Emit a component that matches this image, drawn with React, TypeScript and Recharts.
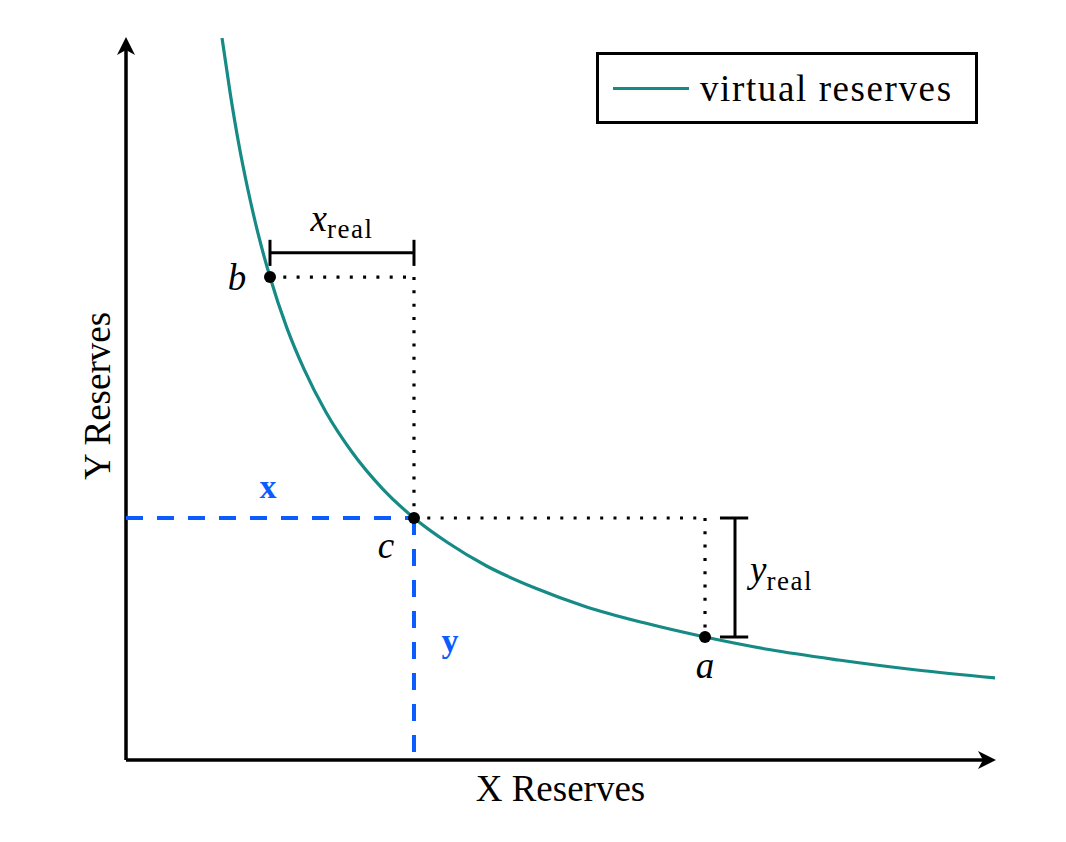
import { LineChart, Line, XAxis, YAxis, ReferenceLine, ReferenceDot, Legend } from 'recharts'

// curve (x reserves / y reserves, arbitrary units)
const curveX = [1.105, 1.2, 1.3, 1.4, 1.52, 1.657, 1.85, 2.05, 2.3, 2.6, 2.95, 3.314, 3.7, 4.15, 4.7, 5.3, 5.95, 6.663, 7.4, 8.2, 9.1, 10]
const curveY = [8.3, 7.66, 7.07, 6.57, 6.05, 5.552, 4.97, 4.49, 4.0, 3.54, 3.12, 2.782, 2.5, 2.23, 1.98, 1.76, 1.58, 1.414, 1.27, 1.15, 1.035, 0.943]

// marked points b, c, a
const pointNames = ['b', 'c', 'a']
const pointX = [1.657, 3.314, 6.663]
const pointY = [5.552, 2.782, 1.414]

const xMax = 10
const yMax = 8.3

const TEAL = '#168a85'
const BLUE = '#0b5cff'
const FONT = '"Liberation Serif", "DejaVu Serif", serif'

const curveData = curveX.map((x, i) => ({ x, y: curveY[i] }))

const [bx, cx0, ax] = pointX
const [by, cy0, ay] = pointY

// small helpers for the annotations
const textShape = (content: any, dx: number, dy: number, extra: any = {}) => (p: any) => (
  <text x={p.cx + dx} y={p.cy + dy} textAnchor="middle" fontFamily={FONT} fontSize={37} fill="#000" {...extra}>
    {content}
  </text>
)

const arrowRight = (p: any) => (
  <path d={`M${p.cx + 1},${p.cy} L${p.cx - 17},${p.cy - 9} L${p.cx - 12},${p.cy} L${p.cx - 17},${p.cy + 9} Z`} fill="#000" />
)
const arrowUp = (p: any) => (
  <path d={`M${p.cx},${p.cy - 1} L${p.cx - 9},${p.cy + 17} L${p.cx},${p.cy + 12} L${p.cx + 9},${p.cy + 17} Z`} fill="#000" />
)

const yLabel = (p: any) => (
  <text
    x={p.cx - 16}
    y={p.cy - 3}
    transform={`rotate(-90, ${p.cx - 16}, ${p.cy - 3})`}
    textAnchor="middle"
    fontFamily={FONT}
    fontSize={37}
    fill="#000"
  >
    Y Reserves
  </text>
)

const renderLegend = (props: any) => {
  const item = props.payload && props.payload[0]
  return (
    <div
      style={{
        boxSizing: 'border-box',
        width: 382,
        height: 72,
        border: '3.5px solid #000',
        display: 'flex',
        alignItems: 'center',
        paddingLeft: 14,
        fontFamily: FONT,
        fontSize: 37,
        lineHeight: 1,
        background: '#fff',
      }}
    >
      <span style={{ display: 'inline-block', width: 76, height: 3, background: TEAL, marginRight: 11 }} />
      <span style={{ letterSpacing: 1.6 }}>{item ? item.value : 'virtual reserves'}</span>
    </div>
  )
}

const axisStyle = { stroke: '#000', strokeWidth: 3.5 }
const dotted = { stroke: '#000', strokeWidth: 3.2, strokeDasharray: '3 10.3' }
const dashed = { stroke: BLUE, strokeWidth: 4, strokeDasharray: '17 14' }
const bracket = { stroke: '#000', strokeWidth: 3 }

export default function App() {
  return (
    <div style={{ position: 'absolute', left: 0, top: 0, background: '#fff' }}>
      <LineChart
        width={1066}
        height={842}
        data={curveData}
        margin={{ top: 38, right: 71, bottom: 82, left: 126 }}
        style={{ fontFamily: FONT }}
      >
        <XAxis type="number" dataKey="x" domain={[0, xMax]} allowDataOverflow hide />
        <YAxis type="number" domain={[0, yMax]} allowDataOverflow hide />
        <Legend
          content={renderLegend}
          layout="horizontal"
          verticalAlign="middle"
          align="center"
          wrapperStyle={{ left: 596, top: 52, width: 382, height: 72 }}
        />

        {/* axes */}
        <ReferenceLine segment={[{ x: 0, y: 0 }, { x: xMax - 0.1, y: 0 }]} {...axisStyle} ifOverflow="visible" />
        <ReferenceLine segment={[{ x: 0, y: 0 }, { x: 0, y: yMax - 0.1 }]} {...axisStyle} ifOverflow="visible" />

        {/* blue x / y guides from c */}
        <ReferenceLine segment={[{ x: 0, y: cy0 }, { x: cx0, y: cy0 }]} {...dashed} ifOverflow="visible" />
        <ReferenceLine segment={[{ x: cx0, y: cy0 }, { x: cx0, y: 0.08 }]} {...dashed} ifOverflow="visible" />

        {/* dotted guides b -> c -> a */}
        <ReferenceLine segment={[{ x: bx, y: by }, { x: cx0, y: by }]} {...dotted} />
        <ReferenceLine segment={[{ x: cx0, y: by }, { x: cx0, y: cy0 }]} {...dotted} />
        <ReferenceLine segment={[{ x: cx0, y: cy0 }, { x: ax, y: cy0 }]} {...dotted} />
        <ReferenceLine segment={[{ x: ax, y: cy0 }, { x: ax, y: ay }]} {...dotted} />

        {/* x_real bracket */}
        <ReferenceLine segment={[{ x: bx, y: 5.83 }, { x: cx0, y: 5.83 }]} {...bracket} />
        <ReferenceLine segment={[{ x: bx, y: 5.68 }, { x: bx, y: 5.98 }]} {...bracket} />
        <ReferenceLine segment={[{ x: cx0, y: 5.68 }, { x: cx0, y: 5.98 }]} {...bracket} />

        {/* y_real bracket */}
        <ReferenceLine segment={[{ x: 7.008, y: cy0 }, { x: 7.008, y: ay }]} {...bracket} />
        <ReferenceLine segment={[{ x: 6.835, y: cy0 }, { x: 7.16, y: cy0 }]} {...bracket} />
        <ReferenceLine segment={[{ x: 6.835, y: ay }, { x: 7.16, y: ay }]} {...bracket} />

        <Line
          type="monotone"
          dataKey="y"
          name="virtual reserves"
          stroke={TEAL}
          strokeWidth={3.2}
          dot={false}
          activeDot={false}
          isAnimationActive={false}
        />

        {pointNames.map((n, i) => (
          <ReferenceDot key={n} x={pointX[i]} y={pointY[i]} r={6} fill="#000" stroke="none" ifOverflow="visible" />
        ))}

        {/* point labels */}
        <ReferenceDot x={bx} y={by} shape={textShape(pointNames[0], -33, 13, { fontStyle: 'italic' })} ifOverflow="visible" />
        <ReferenceDot x={cx0} y={cy0} shape={textShape(pointNames[1], -28, 40, { fontStyle: 'italic' })} ifOverflow="visible" />
        <ReferenceDot x={ax} y={ay} shape={textShape(pointNames[2], 0, 41, { fontStyle: 'italic' })} ifOverflow="visible" />

        <ReferenceDot
          x={(bx + cx0) / 2}
          y={5.83}
          shape={textShape(
            [
              <tspan key="m" fontStyle="italic">x</tspan>,
              <tspan key="s" fontSize={27} dy={7} letterSpacing={1.5}>real</tspan>,
            ],
            0,
            -22
          )}
          ifOverflow="visible"
        />
        <ReferenceDot
          x={7.008}
          y={(cy0 + ay) / 2}
          shape={textShape(
            [
              <tspan key="m" fontStyle="italic">y</tspan>,
              <tspan key="s" fontSize={27} dy={8} letterSpacing={1.5}>real</tspan>,
            ],
            15,
            5,
            { textAnchor: 'start' }
          )}
          ifOverflow="visible"
        />

        <ReferenceDot x={cx0 / 2} y={cy0} shape={textShape('x', -2, -20, { fill: BLUE, fontWeight: 'bold', fontSize: 34 })} ifOverflow="visible" />
        <ReferenceDot x={cx0} y={cy0 / 2} shape={textShape('y', 36, 13, { fill: BLUE, fontWeight: 'bold', fontSize: 34 })} ifOverflow="visible" />

        {/* axis arrows and titles */}
        <ReferenceDot x={xMax} y={0} shape={arrowRight} ifOverflow="visible" />
        <ReferenceDot x={0} y={yMax} shape={arrowUp} ifOverflow="visible" />
        <ReferenceDot x={xMax / 2} y={0} shape={textShape('X Reserves', 0, 41)} ifOverflow="visible" />
        <ReferenceDot x={0} y={yMax / 2} shape={yLabel} ifOverflow="visible" />
      </LineChart>
    </div>
  )
}
